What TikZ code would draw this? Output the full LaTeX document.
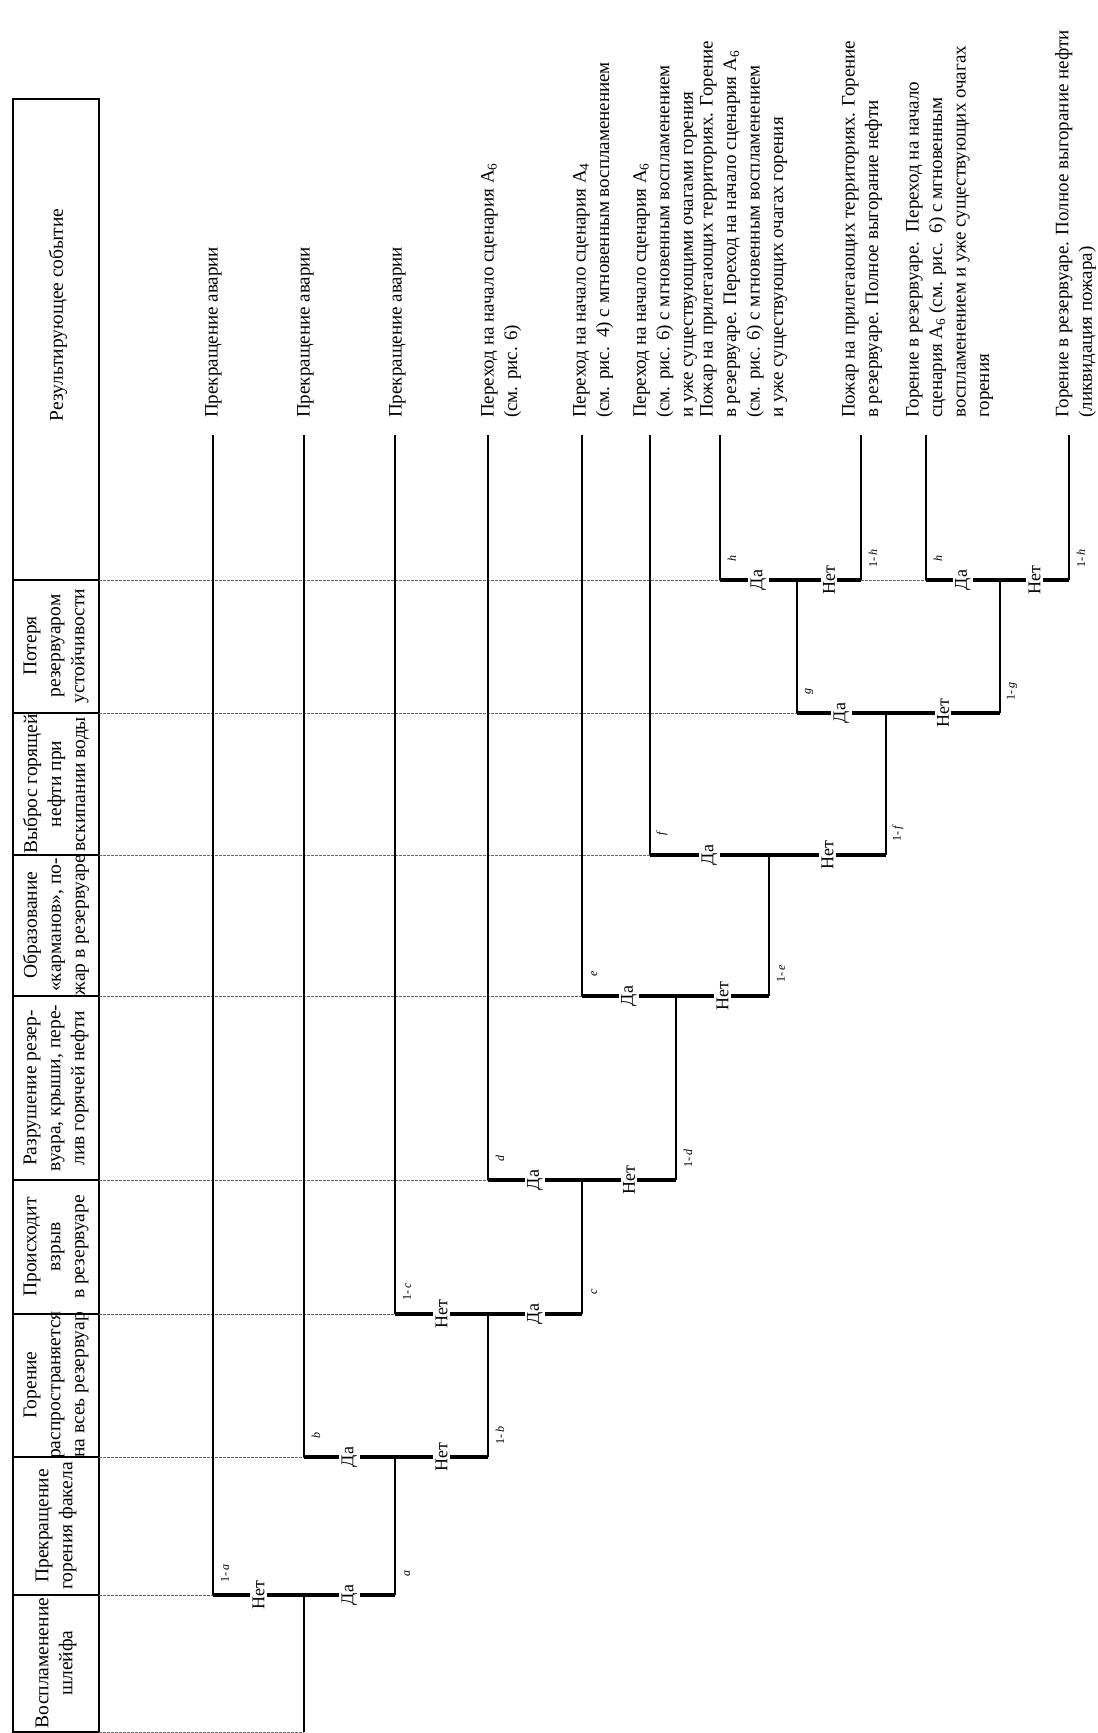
\documentclass[tikz,border=0pt]{standalone}
\usepackage{fontspec}
\setmainfont{Liberation Serif}
\usetikzlibrary{calc}
\begin{document}
\begin{tikzpicture}[x=1pt,y=-1pt,
  branchline/.style={line width=2.2pt},
  splitbar/.style={line width=3.2pt},
  guideline/.style={line width=0.9pt, black!60, dash pattern=on 2.5pt off 1.5pt},
  hdrframe/.style={line width=1.8pt},
  sepline/.style={line width=1.4pt},
  yn/.style={rotate=90, fill=white, inner sep=2.5pt, font=\fontsize{18}{20}\selectfont},
  prob/.style={rotate=90, inner sep=0pt, font=\fontsize{12}{14}\selectfont},
  hdr/.style={rotate=90, align=center, inner sep=0pt, font=\fontsize{19.5}{24}\selectfont},
  outc/.style={rotate=90, align=left, anchor=north west, inner sep=0pt, font=\fontsize{19}{23.5}\selectfont},
]
\useasboundingbox (0,0) rectangle (1098,1733);

% ---------- header column ----------
\coordinate (H0) at (13,99);
\coordinate (H9) at (99,1732);
\draw[hdrframe] (H0) rectangle (H9);
\foreach \yy in {580,713,855,996,1180,1314,1457,1595}
  \draw[sepline] (13,\yy) -- (99,\yy);

\node[hdr] (hR) at (58,315) {Результирующее событие};
\node[hdr] (hH) at (56,646) {Потеря\\резервуаром\\устойчивости};
\node[hdr] (hG) at (56,784) {Выброс горящей\\нефти при\\вскипании воды};
\node[hdr] (hF) at (56,925) {Образование\\«карманов», по-\\жар в резервуаре};
\node[hdr] (hE) at (56,1088) {Разрушение резер-\\вуара, крыши, пере-\\лив горячей нефти};
\node[hdr] (hD) at (56,1247) {Происходит\\взрыв\\в резервуаре};
\node[hdr] (hC) at (56,1385) {Горение\\распространяется\\на всеь резервуар};
\node[hdr] (hB) at (56,1526) {Прекращение\\горения факела};
\node[hdr] (hA) at (56,1663) {Воспламенение\\шлейфа};

% ---------- tree coordinates ----------
\coordinate (s0) at (304,1732);
\coordinate (a) at (304,1595); \coordinate (aL) at (213,1595); \coordinate (aR) at (395,1595);
\coordinate (b) at (395,1457); \coordinate (bL) at (304,1457); \coordinate (bR) at (488,1457);
\coordinate (c) at (488,1314); \coordinate (cL) at (395,1314); \coordinate (cR) at (582,1314);
\coordinate (d) at (582,1180); \coordinate (dL) at (488,1180); \coordinate (dR) at (676,1180);
\coordinate (e) at (676,996);  \coordinate (eL) at (582,996);  \coordinate (eR) at (769,996);
\coordinate (f) at (769,855);  \coordinate (fL) at (650,855);  \coordinate (fR) at (886,855);
\coordinate (g) at (886,713);  \coordinate (gL) at (797,713);  \coordinate (gR) at (1000,713);
\coordinate (h1) at (797,580); \coordinate (h1L) at (720,580); \coordinate (h1R) at (861,580);
\coordinate (h2) at (1000,580);\coordinate (h2L) at (926,580); \coordinate (h2R) at (1069,580);

\coordinate (t1) at (213,435);  \coordinate (t2) at (304,435);  \coordinate (t3) at (395,435);
\coordinate (t4) at (488,435);  \coordinate (t5) at (582,435);  \coordinate (t6) at (650,435);
\coordinate (t7) at (720,435);  \coordinate (t8) at (861,435);  \coordinate (t9) at (926,435);
\coordinate (t10) at (1069,435);

% header edge points for guide lines
\coordinate (gs0) at (99,1732); \coordinate (gsa) at (99,1595); \coordinate (gsb) at (99,1457);
\coordinate (gsc) at (99,1314); \coordinate (gsd) at (99,1180); \coordinate (gse) at (99,996);
\coordinate (gsf) at (99,855);  \coordinate (gsg) at (99,713);  \coordinate (gsh) at (99,580);

% ---------- dashed guides ----------
\draw[guideline] (gs0) -- (s0);
\draw[guideline] (gsa) -- (aL);
\draw[guideline] (gsb) -- (bL);
\draw[guideline] (gsc) -- (cL);
\draw[guideline] (gsd) -- (dL);
\draw[guideline] (gse) -- (eL);
\draw[guideline] (gsf) -- (fL);
\draw[guideline] (gsg) -- (gL);
\draw[guideline] (gsh) -- (h1L);
\draw[guideline] (h1R) -- (h2L);

% ---------- branch lines ----------
\draw[branchline] (s0) -- (a);
\draw[branchline] (aR) -- (b);
\draw[branchline] (bR) -- (c);
\draw[branchline] (cR) -- (d);
\draw[branchline] (dR) -- (e);
\draw[branchline] (eR) -- (f);
\draw[branchline] (fR) -- (g);
\draw[branchline] (gL) -- (h1);
\draw[branchline] (gR) -- (h2);

\draw[branchline] (aL) -- (t1);
\draw[branchline] (bL) -- (t2);
\draw[branchline] (cL) -- (t3);
\draw[branchline] (dL) -- (t4);
\draw[branchline] (eL) -- (t5);
\draw[branchline] (fL) -- (t6);
\draw[branchline] (h1L) -- (t7);
\draw[branchline] (h1R) -- (t8);
\draw[branchline] (h2L) -- (t9);
\draw[branchline] (h2R) -- (t10);

\draw[splitbar] (aL) -- (aR);
\draw[splitbar] (bL) -- (bR);
\draw[splitbar] (cL) -- (cR);
\draw[splitbar] (dL) -- (dR);
\draw[splitbar] (eL) -- (eR);
\draw[splitbar] (fL) -- (fR);
\draw[splitbar] (gL) -- (gR);
\draw[splitbar] (h1L) -- (h1R);
\draw[splitbar] (h2L) -- (h2R);

% ---------- yes / no labels ----------
\node[yn] (aN) at ($(aL)!0.5!(a)$) {Нет};
\node[yn] (aY) at ($(a)!0.5!(aR)$) {Да};
\node[yn] (bY) at ($(bL)!0.5!(b)$) {Да};
\node[yn] (bN) at ($(b)!0.5!(bR)$) {Нет};
\node[yn] (cN) at ($(cL)!0.5!(c)$) {Нет};
\node[yn] (cY) at ($(c)!0.5!(cR)$) {Да};
\node[yn] (dY) at ($(dL)!0.5!(d)$) {Да};
\node[yn] (dN) at ($(d)!0.5!(dR)$) {Нет};
\node[yn] (eY) at ($(eL)!0.5!(e)$) {Да};
\node[yn] (eN) at ($(e)!0.5!(eR)$) {Нет};
\node[yn] (fY) at ($(fL)!0.5!(f)$) {Да};
\node[yn] (fN) at ($(f)!0.5!(fR)$) {Нет};
\node[yn] (gY) at ($(gL)!0.5!(g)$) {Да};
\node[yn] (gN) at ($(g)!0.5!(gR)$) {Нет};
\node[yn] (h1Y) at ($(h1L)!0.5!(h1)$) {Да};
\node[yn] (h1N) at ($(h1)!0.5!(h1R)$) {Нет};
\node[yn] (h2Y) at ($(h2L)!0.5!(h2)$) {Да};
\node[yn] (h2N) at ($(h2)!0.5!(h2R)$) {Нет};

% ---------- probabilities ----------
\node[prob] (pa1) at (225,1573) {1-\,\textit{a}};
\node[prob] (pa) at (407,1573) {\textit{a}};
\node[prob] (pb) at (316,1435) {\textit{b}};
\node[prob] (pb1) at (500,1435) {1-\,\textit{b}};
\node[prob] (pc1) at (407,1292) {1-\,\textit{c}};
\node[prob] (pc) at (594,1292) {\textit{c}};
\node[prob] (pd) at (500,1158) {\textit{d}};
\node[prob] (pd1) at (688,1158) {1-\,\textit{d}};
\node[prob] (pe) at (594,974) {\textit{e}};
\node[prob] (pe1) at (781,974) {1-\,\textit{e}};
\node[prob] (pf) at (662,833) {\textit{f}};
\node[prob] (pf1) at (898,833) {1-\,\textit{f}};
\node[prob] (pg) at (809,691) {\textit{g}};
\node[prob] (pg1) at (1012,691) {1-\,\textit{g}};
\node[prob] (ph) at (732,558) {\textit{h}};
\node[prob] (ph1) at (873,558) {1-\,\textit{h}};
\node[prob] (ph2) at (938,558) {\textit{h}};
\node[prob] (ph21) at (1081,558) {1-\,\textit{h}};

% ---------- outcomes ----------
\node[outc] (o1) at (205,418) {Прекращение аварии};
\node[outc] (o2) at (297,418) {Прекращение аварии};
\node[outc] (o3) at (389,418) {Прекращение аварии};
\node[outc] (o4) at (481,418) {Переход на начало сценария А\textsubscript{6}\\(см. рис. 6)};
\node[outc] (o5) at (573,418) {Переход на начало сценария А\textsubscript{4}\\(см. рис.~~4) с мгновенным воспламенением};
\node[outc] (o6) at (633,418) {Переход на начало сценария А\textsubscript{6}\\(см. рис. 6) с мгновенным воспламенением\\и уже существующими очагами горения};
\node[outc] (o7) at (700,418) {Пожар на прилегающих территориях. Горение\\в резервуаре. Переход на начало сценария А\textsubscript{6}\\(см. рис. 6) с мгновенным воспламенением\\и уже существующих очагах горения};
\node[outc] (o8) at (842,418) {Пожар на прилегающих территориях. Горение\\в резервуаре. Полное выгорание нефти};
\node[outc] (o9) at (906,418) {Горение в резервуаре.~~Переход на начало\\сценария А\textsubscript{6} (см. рис.~~6) с мгновенным\\воспламенением и уже существующих очагах\\горения};
\node[outc] (o10) at (1055,418) {Горение в резервуаре. Полное выгорание нефти\\(ликвидация пожара)};
\end{tikzpicture}
\end{document}
